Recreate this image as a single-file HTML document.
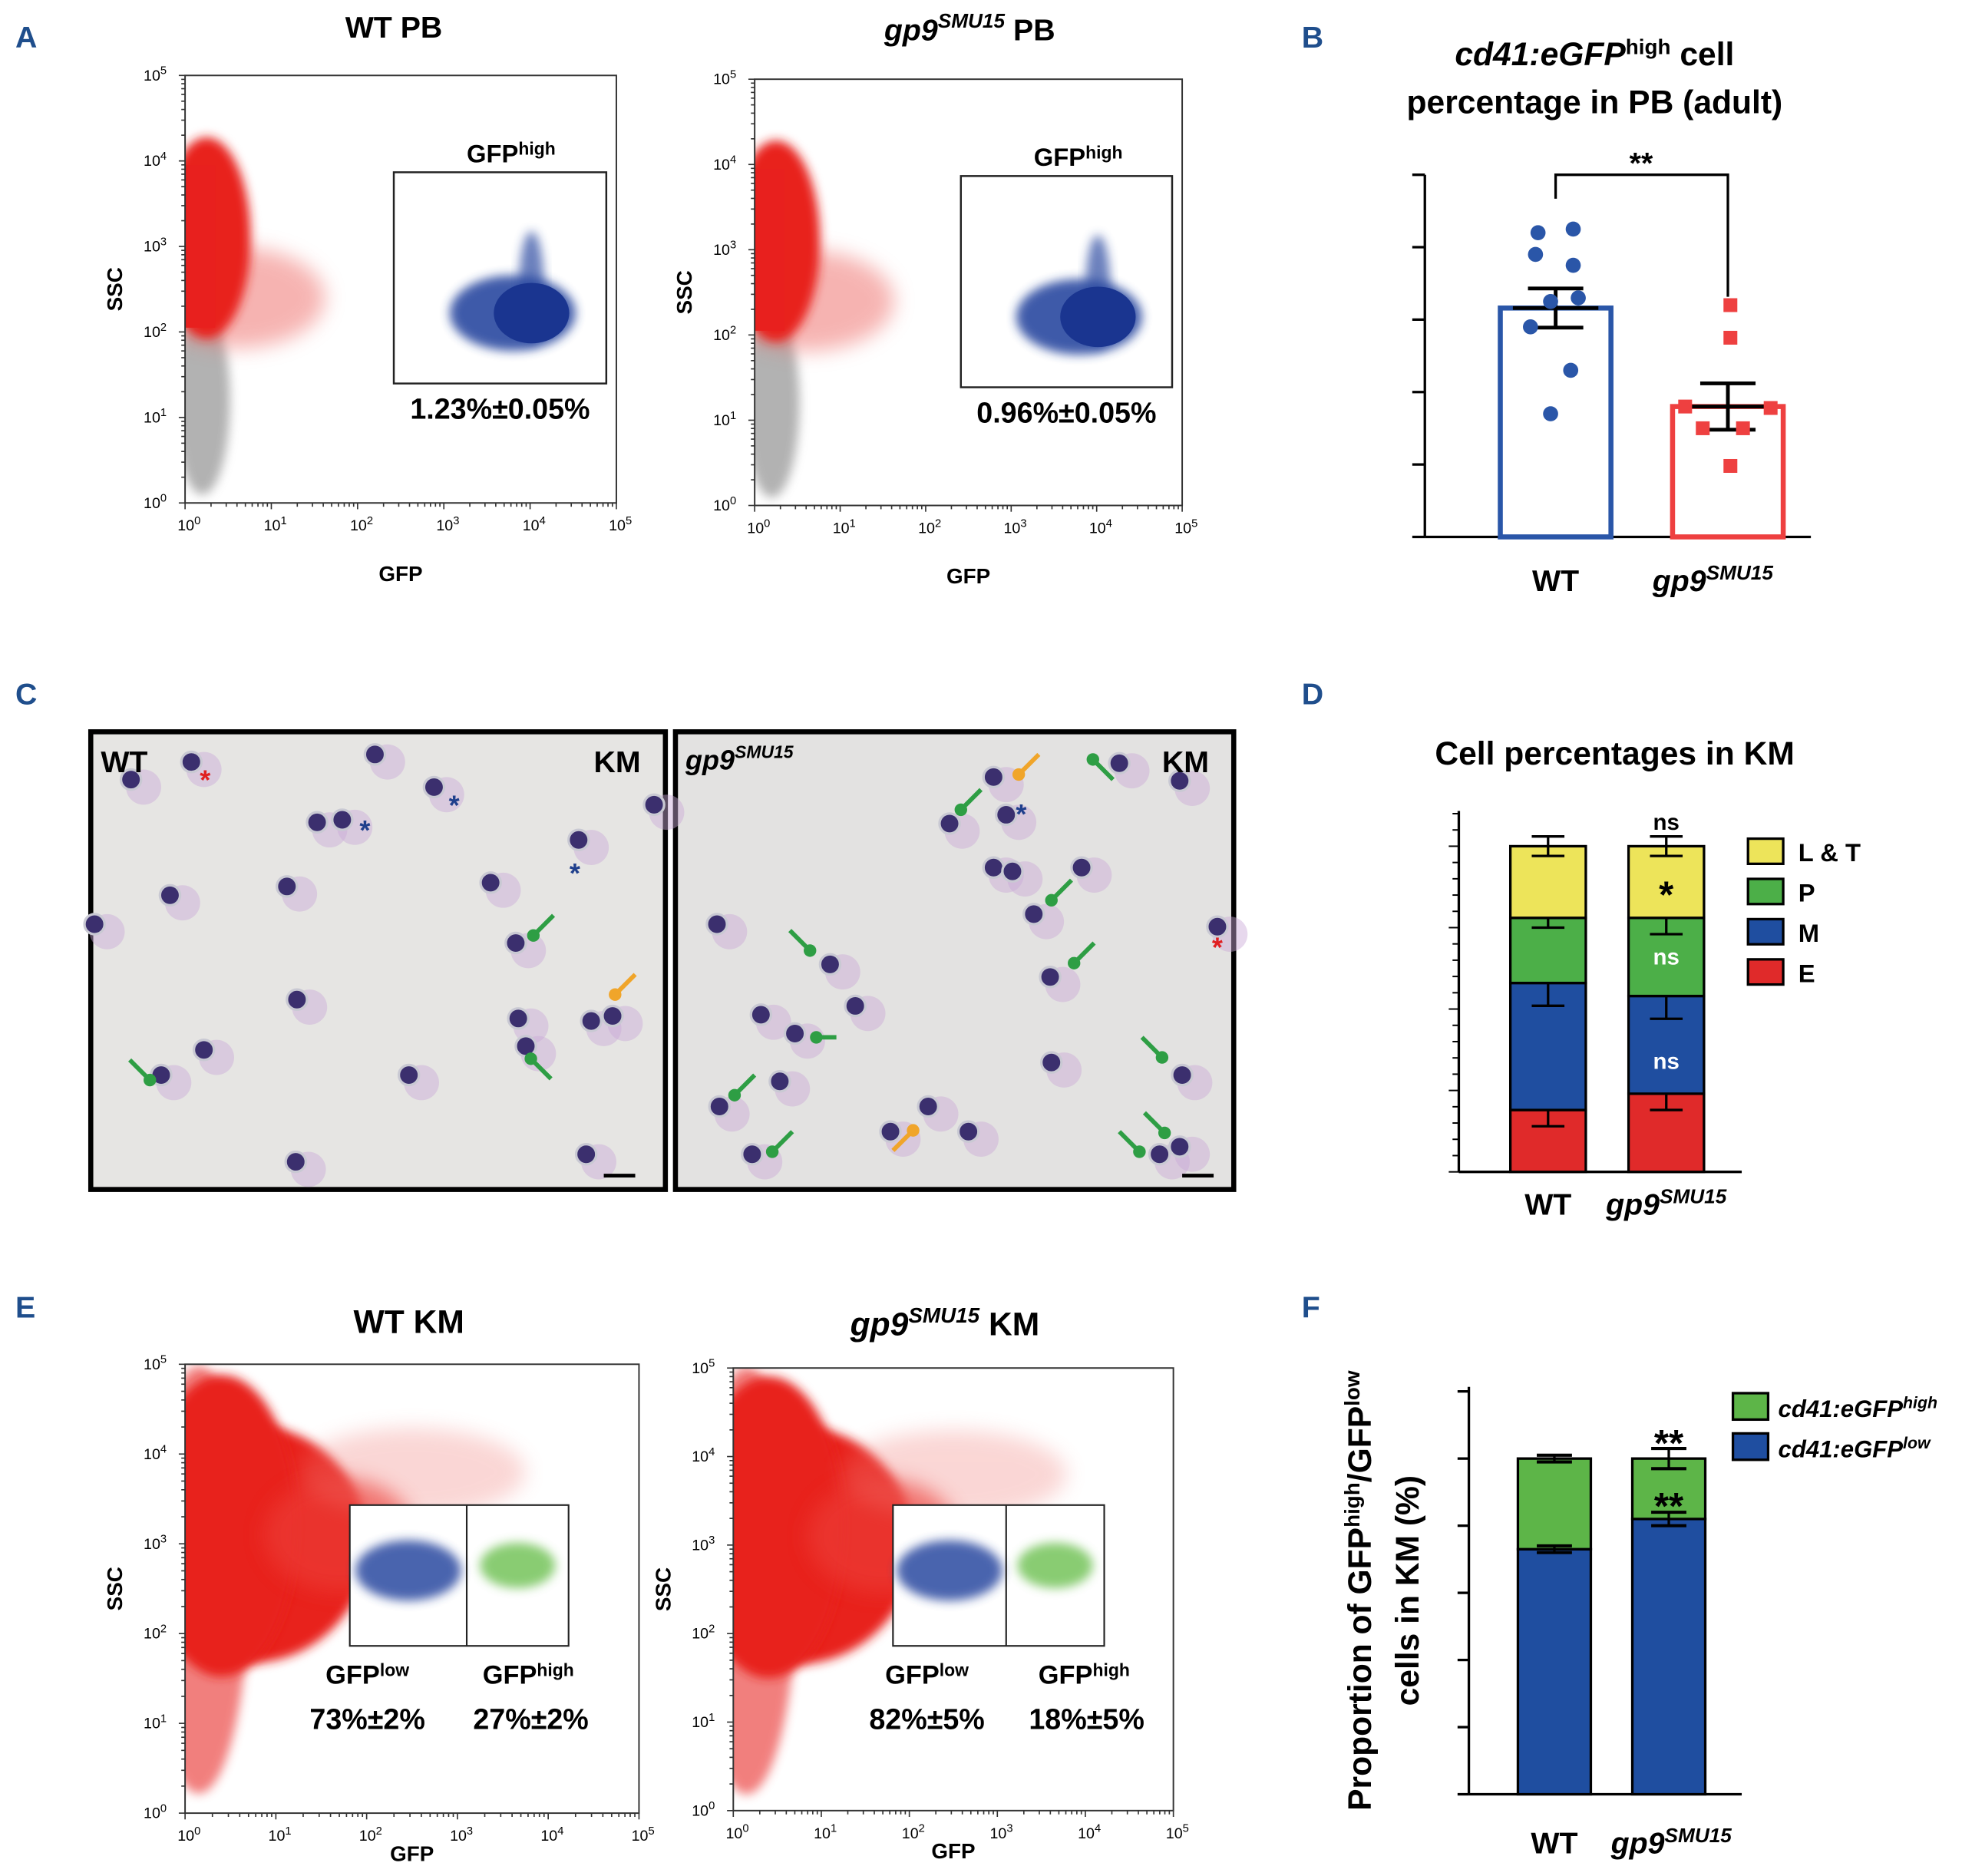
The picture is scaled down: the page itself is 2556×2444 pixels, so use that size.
<!DOCTYPE html>
<html><head><meta charset="utf-8"><style>
html,body{margin:0;padding:0;background:#fff}
svg{display:block;font-family:"Liberation Sans",sans-serif}
.b{font-weight:bold}
</style></head><body>
<svg id="fig" width="2556" height="2444" viewBox="0 0 1560 1492" xmlns="http://www.w3.org/2000/svg">
<defs id="defs">
<filter id="blur" x="-30%" y="-30%" width="160%" height="160%"><feGaussianBlur stdDeviation="4"/></filter>
<filter id="blur2" x="-30%" y="-30%" width="160%" height="160%"><feGaussianBlur stdDeviation="8"/></filter>
</defs>
<g fill="#1f4e8c" font-weight="bold" font-size="24">
<text x="12" y="38">A</text>
<text x="1035" y="38">B</text>
<text x="12" y="560">C</text>
<text x="1035" y="560">D</text>
<text x="12" y="1048">E</text>
<text x="1035" y="1048">F</text>
</g>

<g id="panelA"></g>
<g id="panelE"></g>

<g>
<rect x="72" y="582" width="457" height="364" fill="#e6e5e3" stroke="#000" stroke-width="4"/>
<rect x="537" y="582" width="444" height="364" fill="#e3e2e1" stroke="#000" stroke-width="4"/>
<g id="cells"></g>
<text x="80" y="614" font-size="24" class="b">WT</text>
<text x="472" y="614" font-size="24" class="b">KM</text>
<text x="545" y="612" font-size="22" class="b" font-style="italic">gp9<tspan font-size="14" dy="-9">SMU15</tspan></text>
<text x="924" y="614" font-size="24" class="b">KM</text>
<line x1="480" y1="935" x2="505" y2="935" stroke="#000" stroke-width="3"/>
<line x1="940" y1="935" x2="965" y2="935" stroke="#000" stroke-width="3"/>
</g>

<g id="panelB"></g>
<g id="panelD"></g>
<g id="panelF"></g>
</svg>
<script>
const NS="http://www.w3.org/2000/svg";
function mk(p,tag,at,txt){const e=document.createElementNS(NS,tag);for(const k in at)e.setAttribute(k,at[k]);if(txt!==undefined)e.textContent=txt;p.appendChild(e);return e;}
const defs=document.getElementById('defs');

// ---------- Chart data ----------
const bGroups=["WT","gp9"];
const bMeans=[3.16,1.8];
const bSem=[0.27,0.32];
const bWtPts=[4.2,4.25,3.9,3.75,3.25,3.3,2.9,2.3,1.7];
const bGpPts=[3.2,2.75,1.8,1.78,1.5,1.5,0.98];

const dGroups=["WT","gp9"];
const dE=[19,24];
const dM=[39,30];
const dP=[20,24];
const dLT=[22,22];
const dErr=[[5,7,3,3],[5,7,5,3]];

const fGroups=["WT","gp9"];
const fLow=[73,82];
const fHigh=[27,18];
const fErrLow=[1,2];
const fErrHigh=[1,3];

const aPct=["1.23%±0.05%","0.96%±0.05%"];
const eLow=["73%±2%","82%±5%"];
const eHigh=["27%±2%","18%±5%"];

let clipN=0;
function flow(g,x0,y0,x1,y1,opts){
  const sx=d=>x0+(x1-x0)*d/5, sy=d=>y1-(y1-y0)*d/5;
  const cid='clip'+(clipN++);
  const cp=mk(defs,'clipPath',{id:cid});
  mk(cp,'rect',{x:x0,y:y0,width:x1-x0,height:y1-y0});
  const inner=mk(g,'g',{'clip-path':`url(#${cid})`});
  mk(g,'rect',{x:x0,y:y0,width:x1-x0,height:y1-y0,fill:'none',stroke:'#333','stroke-width':1.2});
  for(let d=0;d<=5;d++){
    let t=mk(g,'text',{x:sx(d)-6,y:y1+22,'font-size':12},'10');
    
    mk(t,'tspan',{dy:-5,'font-size':9},String(d));
    let t2=mk(g,'text',{x:x0-33,y:sy(d)+4,'font-size':12},'10');
    
    mk(t2,'tspan',{dy:-5,'font-size':9},String(d));
    mk(g,'line',{x1:sx(d),y1:y1,x2:sx(d),y2:y1+5,stroke:'#333'});
    mk(g,'line',{x1:x0,y1:sy(d),x2:x0-5,y2:sy(d),stroke:'#333'});
    if(d<5)for(let m=2;m<10;m++){const v=d+Math.log10(m);
      mk(g,'line',{x1:sx(v),y1:y1,x2:sx(v),y2:y1+3,stroke:'#333'});
      mk(g,'line',{x1:x0,y1:sy(v),x2:x0-3,y2:sy(v),stroke:'#333'});}
  }
  const xl=mk(g,'text',{x:(x0+x1)/2,y:y1+ (opts.km?38:62),'font-size':17,'text-anchor':'middle','font-weight':'bold'},'GFP');
  
  const yl=mk(g,'text',{x:x0-50,y:(y0+y1)/2,'font-size':17,'text-anchor':'middle','font-weight':'bold',transform:`rotate(-90 ${x0-50} ${(y0+y1)/2})`},'SSC');
  
  return {sx,sy,inner};
}

// Panel A
(function(){
  const g=document.getElementById('panelA');
  const plots=[[147,60,490,400,313,137,482,305],[600,63,940,402,764,140,932,308]];
  plots.forEach((p,i)=>{
    const pg=mk(g,'g',{});
    
    const {sx,sy,inner}=flow(pg,p[0],p[1],p[2],p[3],{});
    mk(inner,'ellipse',{cx:sx(0.2),cy:sy(1.2),rx:22,ry:75,fill:'#999',opacity:0.75,filter:'url(#blur)'});
    mk(inner,'ellipse',{cx:sx(0.6),cy:sy(2.4),rx:70,ry:40,fill:'#ee6a66',opacity:0.5,filter:'url(#blur2)'});
    mk(inner,'ellipse',{cx:sx(0.25),cy:sy(3.1),rx:35,ry:80,fill:'#e8201e',filter:'url(#blur)'});
    mk(inner,'rect',{x:p[0],y:sy(3.95),width:sx(0.35)-p[0],height:sy(2.05)-sy(3.95),fill:'#e8201e'});
    mk(pg,'rect',{x:p[4],y:p[5],width:p[6]-p[4],height:p[7]-p[5],fill:'none',stroke:'#222','stroke-width':1.5});
    const cx=(p[4]+p[6])/2+10, cy=(p[5]+p[7])/2+28;
    mk(pg,'ellipse',{cx:cx,cy:cy,rx:50,ry:30,fill:'#2a4aa0',opacity:0.9,filter:'url(#blur)'});
    mk(pg,'ellipse',{cx:cx+15,cy:cy-20,rx:10,ry:45,fill:'#2a4aa0',opacity:0.7,filter:'url(#blur)'});
    mk(pg,'ellipse',{cx:cx+15,cy:cy,rx:30,ry:24,fill:'#1a3590'});
    const gl=mk(pg,'text',{x:p[4]+58,y:p[5]-8,'font-size':20,'font-weight':'bold'},'GFP');
    
    mk(gl,'tspan',{dy:-6,'font-size':14},'high');
    const pc=mk(pg,'text',{x:(p[4]+p[6])/2,y:p[7]+28,'font-size':23,'text-anchor':'middle','font-weight':'bold'},aPct[i]);
    
  });
  const t1=mk(g,'text',{x:313,y:30,'font-size':24,'font-weight':'bold','text-anchor':'middle'},'WT PB');
  
  const t2=mk(g,'text',{x:703,y:32,'font-size':24,'font-weight':'bold','font-style':'italic'},'gp9');
  
  mk(t2,'tspan',{dy:-10,'font-size':16},'SMU15');
  mk(t2,'tspan',{dy:10,'font-style':'normal','font-size':24},'  PB');
})();

// Panel E
(function(){
  const g=document.getElementById('panelE');
  const plots=[[147,1085,508,1442,278,1197,452,1309,371,292,420],[583,1088,933,1440,710,1197,878,1309,800,737,862]];
  plots.forEach((p,i)=>{
    const pg=mk(g,'g',{});
    
    const {sx,sy,inner}=flow(pg,p[0],p[1],p[2],p[3],{km:true});
    mk(inner,'ellipse',{cx:sx(0.15),cy:sy(2.6),rx:40,ry:170,fill:'#ec4a46',opacity:0.7,filter:'url(#blur)'});
    mk(inner,'ellipse',{cx:sx(0.7),cy:sy(3.0),rx:95,ry:95,fill:'#e8201e',filter:'url(#blur)'});
    mk(inner,'ellipse',{cx:sx(0.4),cy:sy(3.2),rx:60,ry:120,fill:'#e8201e',filter:'url(#blur)'});
    mk(inner,'ellipse',{cx:sx(1.7),cy:sy(3.1),rx:60,ry:45,fill:'#ec3a36',opacity:0.7,filter:'url(#blur2)'});
    mk(inner,'ellipse',{cx:sx(2.5),cy:sy(3.8),rx:90,ry:35,fill:'#f07a76',opacity:0.3,filter:'url(#blur2)'});
    const mid=p[8];
    mk(pg,'rect',{x:p[4],y:p[5],width:p[6]-p[4],height:p[7]-p[5],fill:'#fff',stroke:'#222','stroke-width':1.3});
    mk(pg,'ellipse',{cx:(p[4]+mid)/2,cy:p[5]+52,rx:42,ry:24,fill:'#2a4aa0',opacity:0.85,filter:'url(#blur)'});
    mk(pg,'ellipse',{cx:(mid+p[6])/2,cy:p[5]+48,rx:30,ry:18,fill:'#6cc050',opacity:0.8,filter:'url(#blur)'});
    mk(pg,'line',{x1:mid,y1:p[5],x2:mid,y2:p[7],stroke:'#222','stroke-width':1.3});
    const l1=mk(pg,'text',{x:p[9],y:p[7]+30,'font-size':21,'font-weight':'bold','text-anchor':'middle'},'GFP');
    
    mk(l1,'tspan',{dy:-6,'font-size':14},'low');
    const l2=mk(pg,'text',{x:p[10],y:p[7]+30,'font-size':21,'font-weight':'bold','text-anchor':'middle'},'GFP');
    
    mk(l2,'tspan',{dy:-6,'font-size':14},'high');
    const v1=mk(pg,'text',{x:p[9],y:p[7]+66,'font-size':23,'font-weight':'bold','text-anchor':'middle'},eLow[i]);
    
    const v2=mk(pg,'text',{x:p[10]+2,y:p[7]+66,'font-size':23,'font-weight':'bold','text-anchor':'middle'},eHigh[i]);
    
  });
  const t1=mk(g,'text',{x:325,y:1060,'font-size':26,'font-weight':'bold','text-anchor':'middle'},'WT KM');
  
  const t2=mk(g,'text',{x:676,y:1062,'font-size':26,'font-weight':'bold','font-style':'italic'},'gp9');
  
  mk(t2,'tspan',{dy:-10,'font-size':17},'SMU15');
  mk(t2,'tspan',{dy:10,'font-style':'normal','font-size':26},'  KM');
})();

// Cells in panel C
(function(){
  const g=document.getElementById('cells');
  const cells=[[104,620],[152,606],[298,600],[345,626],[252,654],[272,652],[460,668],[135,712],[228,705],[390,702],[410,750],[236,795],[128,855],[162,835],[412,810],[418,832],[470,812],[487,808],[466,918],[235,924],[325,855],[520,640],[75,735],
  [790,618],[890,607],[755,655],[800,648],[938,621],[790,690],[805,693],[822,727],[835,777],[660,767],[605,807],[632,822],[572,880],[598,918],[708,900],[738,880],[770,900],[836,845],[940,855],[922,918],[938,912],[968,737],[570,735],[620,860],[680,800],[860,690]];
  cells.forEach(c=>{
    mk(g,'circle',{cx:c[0]+10,cy:c[1]+6,r:14,fill:'#c9a8d8',opacity:0.45});
    mk(g,'circle',{cx:c[0],cy:c[1],r:8,fill:'#3b2f6e',stroke:'#c9c9d3','stroke-width':2});
  });
  const arrows=[[440,728,-1,1,'#2e9e44'],[438,858,-1,-1,'#2e9e44'],[103,843,1,1,'#2e9e44'],[505,775,-1,1,'#f0a52a'],[780,628,-1,1,'#2e9e44'],[885,620,-1,-1,'#2e9e44'],[826,600,-1,1,'#f0a52a'],[852,700,-1,1,'#2e9e44'],[870,750,-1,1,'#2e9e44'],[628,740,1,1,'#2e9e44'],[665,825,-1,0,'#2e9e44'],[600,855,-1,1,'#2e9e44'],[630,900,-1,1,'#2e9e44'],[710,915,1,-1,'#f0a52a'],[908,825,1,1,'#2e9e44'],[910,885,1,1,'#2e9e44'],[890,900,1,1,'#2e9e44']];
  arrows.forEach(a=>{
    const x2=a[0]+a[2]*16,y2=a[1]+a[3]*16;
    mk(g,'line',{x1:a[0],y1:a[1],x2:x2,y2:y2,stroke:a[4],'stroke-width':3.5});
    mk(g,'circle',{cx:x2,cy:y2,r:5,fill:a[4]});
  });
  [[163,628,'#e02020'],[290,668,'#1f3f8c'],[361,648,'#1f3f8c'],[457,702,'#1f3f8c'],[812,655,'#1f3f8c'],[968,761,'#e02020']].forEach(s=>mk(g,'text',{x:s[0],y:s[1],'font-size':22,'font-weight':'bold',fill:s[2],'text-anchor':'middle'},'*'));
})();

// Panel B
(function(){
  const g=document.getElementById('panelB');
  const y0=427, unit=57.6, xAxis=1133;
  const ys=v=>y0-v*unit;
  const xs=[1237,1374];
  mk(g,'line',{x1:xAxis,y1:139,x2:xAxis,y2:y0,stroke:'#000','stroke-width':2});
  mk(g,'line',{x1:xAxis,y1:y0,x2:1440,y2:y0,stroke:'#000','stroke-width':2});
  for(let t=0;t<=5;t++)mk(g,'line',{x1:xAxis-10,y1:ys(t),x2:xAxis,y2:ys(t),stroke:'#000','stroke-width':2});
  const cols=['#2a56a8','#ee4040'];
  bGroups.forEach((n,i)=>{
    const bar=mk(g,'rect',{x:xs[i]-44,y:ys(bMeans[i]),width:88,height:y0-ys(bMeans[i]),fill:'none',stroke:cols[i],'stroke-width':4});
    
    mk(g,'line',{x1:xs[i],y1:ys(bMeans[i]-bSem[i]),x2:xs[i],y2:ys(bMeans[i]+bSem[i]),stroke:'#000','stroke-width':3});
    [bMeans[i]-bSem[i],bMeans[i],bMeans[i]+bSem[i]].forEach((v,k)=>mk(g,'line',{x1:xs[i]-(k==1?34:22),y1:ys(v),x2:xs[i]+(k==1?34:22),y2:ys(v),stroke:'#000','stroke-width':3}));
    const lb=mk(g,'text',{x:xs[i]-(i?60:0),y:470,'font-size':24,'font-weight':'bold','text-anchor':i?'start':'middle','font-style':i?'italic':'normal'},i?'gp9':'WT');
    
    if(i)mk(lb,'tspan',{dy:-9,'font-size':16},'SMU15');
  });
  const offs=[-14,14,-16,14,-4,18,-20,12,-4];
  bWtPts.forEach((v,k)=>{const p=mk(g,'circle',{cx:xs[0]+offs[k%offs.length],cy:ys(v),r:6,fill:'#2a56a8'});
    });
  const offs2=[2,2,-34,34,-20,12,2];
  bGpPts.forEach((v,k)=>{const p=mk(g,'rect',{x:xs[1]+offs2[k]-5.5,y:ys(v)-5.5,width:11,height:11,fill:'#ee4040'});
    });
  mk(g,'path',{d:`M${xs[0]} 158 V139 H${xs[1]} V236`,fill:'none',stroke:'#000','stroke-width':2});
  mk(g,'text',{x:1305,y:138,'font-size':24,'font-weight':'bold','text-anchor':'middle'},'**');
  const t=mk(g,'text',{x:1268,y:52,'font-size':26,'font-weight':'bold','text-anchor':'middle'});
  
  mk(t,'tspan',{'font-style':'italic'},'cd41:eGFP');mk(t,'tspan',{dy:-9,'font-size':17},'high');mk(t,'tspan',{dy:9},' cell');
  const t2=mk(g,'text',{x:1268,y:90,'font-size':26,'font-weight':'bold','text-anchor':'middle'},'percentage in PB (adult)');
  
})();

// Panel D
(function(){
  const g=document.getElementById('panelD');
  const y0=932,h=259,xA=1160;
  const ys=v=>y0-v*h/100;
  mk(g,'line',{x1:xA,y1:645,x2:xA,y2:y0,stroke:'#000','stroke-width':2});
  mk(g,'line',{x1:xA,y1:y0,x2:1385,y2:y0,stroke:'#000','stroke-width':2});
  for(let t=0;t<=22;t++)mk(g,'line',{x1:xA-(t%5==0?8:5),y1:y0-t*h/20,x2:xA,y2:y0-t*h/20,stroke:'#000','stroke-width':1.2});
  const xs=[1231,1325];const cols=['#e02a2a','#1f4ea0','#4caf48','#ede45a'];const names=['E','M','P','LT'];
  const segs=[dE,dM,dP,dLT];
  dGroups.forEach((n,i)=>{
    let cum=0;
    segs.forEach((s,k)=>{
      const r=mk(g,'rect',{x:xs[i]-30,y:ys(cum+s[i]),width:60,height:ys(cum)-ys(cum+s[i]),fill:cols[k],stroke:'#000','stroke-width':2});
      
      cum+=s[i];
      const e=dErr[i][k];
      mk(g,'line',{x1:xs[i],y1:ys(cum-e),x2:xs[i],y2:ys(cum+e),stroke:'#000','stroke-width':2});
      mk(g,'line',{x1:xs[i]-13,y1:ys(cum-e),x2:xs[i]+13,y2:ys(cum-e),stroke:'#000','stroke-width':2});
      mk(g,'line',{x1:xs[i]-13,y1:ys(cum+e),x2:xs[i]+13,y2:ys(cum+e),stroke:'#000','stroke-width':2});
    });
    const lb=mk(g,'text',{x:xs[i]-(i?48:0),y:966,'font-size':24,'font-weight':'bold','text-anchor':i?'start':'middle','font-style':i?'italic':'normal'},i?'gp9':'WT');
    
    if(i)mk(lb,'tspan',{dy:-9,'font-size':16},'SMU15');
  });
  mk(g,'text',{x:1325,y:660,'font-size':18,'font-weight':'bold','text-anchor':'middle'},'ns');
  mk(g,'text',{x:1325,y:722,'font-size':30,'font-weight':'bold','text-anchor':'middle'},'*');
  mk(g,'text',{x:1325,y:767,'font-size':18,'font-weight':'bold','text-anchor':'middle',fill:'#fff'},'ns');
  mk(g,'text',{x:1325,y:850,'font-size':18,'font-weight':'bold','text-anchor':'middle',fill:'#fff'},'ns');
  const t=mk(g,'text',{x:1284,y:608,'font-size':26,'font-weight':'bold','text-anchor':'middle'},'Cell percentages in KM');
  
  const leg=[['L & T','#ede45a'],['P','#4caf48'],['M','#1f4ea0'],['E','#e02a2a']];
  leg.forEach((l,k)=>{
    const lg=mk(g,'g',{});
    mk(lg,'rect',{x:1390,y:667+k*32,width:28,height:20,fill:l[1],stroke:'#000','stroke-width':2});
    mk(lg,'text',{x:1430,y:685+k*32,'font-size':20,'font-weight':'bold'},l[0]);
  });
})();

// Panel F
(function(){
  const g=document.getElementById('panelF');
  const y0=1427,unit=267/100,xA=1168;
  const ys=v=>y0-v*unit;
  mk(g,'line',{x1:xA,y1:1103,x2:xA,y2:y0,stroke:'#000','stroke-width':2});
  mk(g,'line',{x1:xA,y1:y0,x2:1385,y2:y0,stroke:'#000','stroke-width':2});
  for(let t=0;t<=120;t+=20)mk(g,'line',{x1:xA-9,y1:ys(t),x2:xA,y2:ys(t),stroke:'#000','stroke-width':2});
  const xs=[1236,1327];
  fGroups.forEach((n,i)=>{
    const r1=mk(g,'rect',{x:xs[i]-29,y:ys(fLow[i]),width:58,height:y0-ys(fLow[i]),fill:'#1f4ea0',stroke:'#000','stroke-width':2});
    
    const r2=mk(g,'rect',{x:xs[i]-29,y:ys(fLow[i]+fHigh[i]),width:58,height:ys(fLow[i])-ys(fLow[i]+fHigh[i]),fill:'#5db548',stroke:'#000','stroke-width':2});
    
    [[fLow[i],fErrLow[i]],[fLow[i]+fHigh[i],fErrHigh[i]]].forEach(([v,e])=>{
      mk(g,'line',{x1:xs[i],y1:ys(v-e),x2:xs[i],y2:ys(v+e),stroke:'#000','stroke-width':2});
      mk(g,'line',{x1:xs[i]-14,y1:ys(v+e),x2:xs[i]+14,y2:ys(v+e),stroke:'#000','stroke-width':2.5});
      mk(g,'line',{x1:xs[i]-14,y1:ys(v-e),x2:xs[i]+14,y2:ys(v-e),stroke:'#000','stroke-width':2.5});
    });
    const lb=mk(g,'text',{x:xs[i]-(i?46:0),y:1474,'font-size':24,'font-weight':'bold','text-anchor':i?'start':'middle','font-style':i?'italic':'normal'},i?'gp9':'WT');
    
    if(i)mk(lb,'tspan',{dy:-9,'font-size':16},'SMU15');
  });
  mk(g,'text',{x:1327,y:1158,'font-size':30,'font-weight':'bold','text-anchor':'middle'},'**');
  mk(g,'text',{x:1327,y:1208,'font-size':30,'font-weight':'bold','text-anchor':'middle'},'**');
  const yt=mk(g,'text',{transform:'translate(1090 1265) rotate(-90)','font-size':26,'font-weight':'bold','text-anchor':'middle'},'Proportion of GFP');
  
  mk(yt,'tspan',{dy:-9,'font-size':17},'high');mk(yt,'tspan',{dy:9},'/GFP');mk(yt,'tspan',{dy:-9,'font-size':17},'low');
  const yt2=mk(g,'text',{transform:'translate(1128 1265) rotate(-90)','font-size':26,'font-weight':'bold','text-anchor':'middle'},'cells in KM (%)');
  
  [['high','#5db548'],['low','#1f4ea0']].forEach((l,k)=>{
    const lg=mk(g,'g',{});
    mk(lg,'rect',{x:1378,y:1108+k*32,width:28,height:21,fill:l[1],stroke:'#000','stroke-width':2});
    const t=mk(lg,'text',{x:1414,y:1127+k*32,'font-size':19,'font-weight':'bold','font-style':'italic'},'cd41:eGFP');
    mk(t,'tspan',{dy:-7,'font-size':13},l[0]);
  });
})();
</script>
</body></html>
